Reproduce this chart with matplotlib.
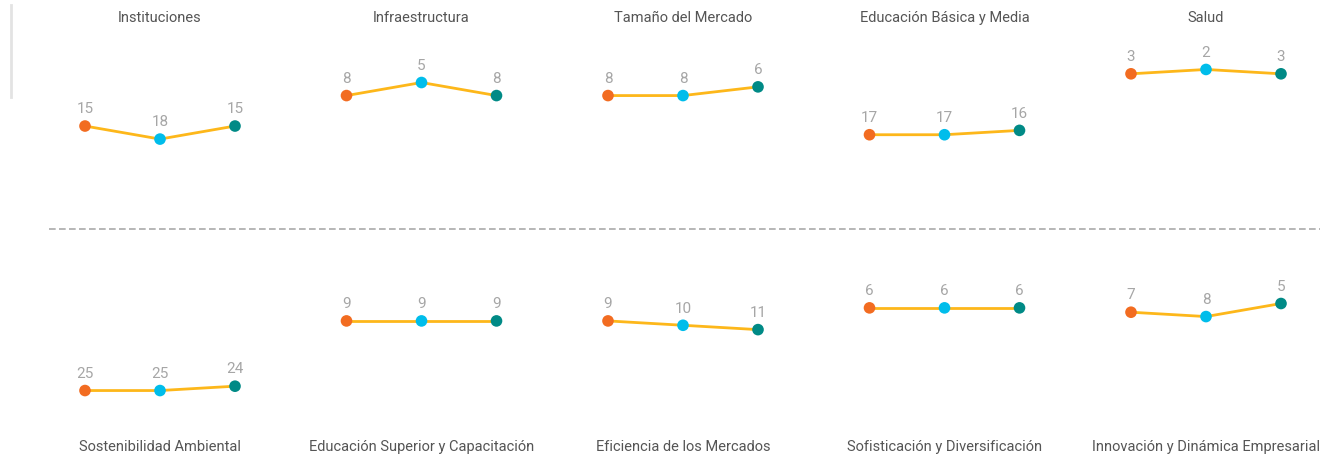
import matplotlib
matplotlib.use("Agg")
import matplotlib.pyplot as plt
from matplotlib.lines import Line2D

# Rankings for three periods per pillar (lower rank = better, drawn higher)
top_titles = ["Instituciones", "Infraestructura", "Tamaño del Mercado",
              "Educación Básica y Media", "Salud"]
top_ranks = [[15, 18, 15], [8, 5, 8], [8, 8, 6], [17, 17, 16], [3, 2, 3]]

bottom_titles = ["Sostenibilidad Ambiental", "Educación Superior y Capacitación",
                 "Eficiencia de los Mercados", "Sofisticación y Diversificación",
                 "Innovación y Dinámica Empresarial"]
bottom_ranks = [[25, 25, 24], [9, 9, 9], [9, 10, 11], [6, 6, 6], [7, 8, 5]]

point_colors = ["#F26C21", "#00BDEB", "#008A86"]
line_color = "#FDB71A"
label_color = "#A6A6A6"
title_color = "#555555"

W, H = 1337, 457
fig = plt.figure(figsize=(W / 100, H / 100), dpi=100)
plt.rcParams["font.family"] = ["Roboto", "DejaVu Sans"]


def px_axes(left, top, width, height):
    return fig.add_axes([left / W, 1 - (top + height) / H, width / W, height / H])


def draw_panel(ax, ranks):
    xs = list(range(len(ranks)))
    ax.plot(xs, ranks, color=line_color, lw=2, zorder=1)
    ax.scatter(xs, ranks, c=point_colors, s=70, zorder=2, linewidths=0)
    for x, r in zip(xs, ranks):
        ax.annotate(str(r), (x, r), xytext=(0, 7), textcoords="offset points",
                    ha="center", va="bottom", fontsize=11, color=label_color)
    ax.set_xlim(-1 / 3, 2 + 1 / 3)
    ax.set_ylim(32, -5)
    ax.axis("off")


centers = [160 + 261.5 * i for i in range(5)]
for i, c in enumerate(centers):
    ax = px_axes(c - 100, 39, 200, 161)
    draw_panel(ax, top_ranks[i])
    fig.text(c / W, 1 - 18 / H, top_titles[i], ha="center", va="center",
             fontsize=10.5, color=title_color)

    ax = px_axes(c - 100, 260, 200, 161)
    draw_panel(ax, bottom_ranks[i])
    fig.text(c / W, 1 - 447 / H, bottom_titles[i], ha="center", va="center",
             fontsize=10.5, color=title_color)

# separator between rows and the faint bar at the top left
fig.add_artist(Line2D([49 / W, 1320 / W], [1 - 229 / H, 1 - 229 / H],
                      color="#AAAAAA", lw=1.2, ls=(0, (4, 2))))
fig.add_artist(Line2D([11 / W, 11 / W], [1 - 5 / H, 1 - 97 / H],
                      color="#E3E3E3", lw=2))

fig.savefig("out.png", dpi=100, facecolor="white")
